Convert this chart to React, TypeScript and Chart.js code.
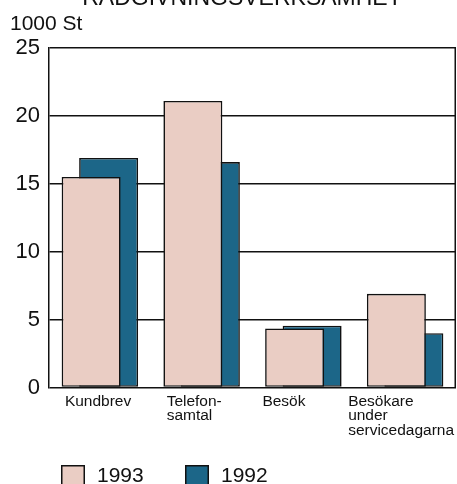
import React, { useEffect, useRef } from "react";
import { Chart, registerables } from "chart.js";

Chart.register(...registerables);

const title = "RÅDGIVNINGSVERKSAMHET";
const unitLabel = "1000 St";
const categories: string[][] = [
  ["Kundbrev"],
  ["Telefon-", "samtal"],
  ["Besök"],
  ["Besökare", "under", "servicedagarna"],
];
const seriesNames = ["1993", "1992"];
const values1993 = [15.5, 21.1, 4.35, 6.9];
const values1992 = [16.9, 16.6, 4.55, 4.0];
const yTicks = [0, 5, 10, 15, 20, 25];

// styling
const FONT = "'Liberation Sans', Arial, Helvetica, sans-serif";
const PINK = "rgb(234,205,196)";
const BLUE = "rgb(28,102,136)";
const labelShift = [-35, -35, -41, -57];
const legendSpots = [61, 185];

const overlay = {
  id: "overlay",
  beforeDatasetsDraw(chart: any) {
    const { ctx, chartArea } = chart;
    ctx.save();
    ctx.strokeStyle = "#111";
    ctx.lineWidth = 1.5;
    ctx.beginPath();
    ctx.moveTo(chartArea.right - 0.75, chartArea.top);
    ctx.lineTo(chartArea.right - 0.75, chartArea.bottom);
    ctx.stroke();
    ctx.restore();
  },
  afterDraw(chart: any) {
    const { ctx } = chart;
    const xs = chart.scales.x;
    ctx.save();
    ctx.fillStyle = "#111";
    // title (cut off at top)
    ctx.font = `23px ${FONT}`;
    ctx.textAlign = "center";
    ctx.textBaseline = "alphabetic";
    ctx.fillText(title, 242, 5);
    // unit label
    ctx.textAlign = "left";
    ctx.font = `21px ${FONT}`;
    ctx.fillText(unitLabel, 10, 29.5);
    // x labels
    ctx.font = `15.5px ${FONT}`;
    categories.forEach((lines, i) => {
      const x = xs.getPixelForValue(i) + labelShift[i];
      lines.forEach((ln, j) => {
        ctx.fillText(ln, x, 406 + j * 14.4);
      });
    });
    // legend
    chart.data.datasets.forEach((ds: any, i: number) => {
      const x = legendSpots[i];
      ctx.fillStyle = ds.backgroundColor;
      ctx.fillRect(x, 465, 24, 24);
      ctx.strokeStyle = "#111";
      ctx.lineWidth = 1.5;
      ctx.strokeRect(x + 0.75, 465.75, 22.5, 24);
      ctx.fillStyle = "#111";
      ctx.font = `21px ${FONT}`;
      ctx.fillText(ds.label, x + 36, 482);
    });
    ctx.restore();
  },
};

export default function App() {
  const ref = useRef<HTMLCanvasElement>(null);
  useEffect(() => {
    if (!ref.current) return;
    const chart = new Chart(ref.current, {
      type: "bar",
      data: {
        labels: categories.map((c) => c.join(" ")),
        datasets: [
          {
            label: seriesNames[0],
            data: values1993,
            backgroundColor: PINK,
            borderColor: "#111",
            borderWidth: 1.6,
            borderSkipped: false,
            categoryPercentage: 0.344,
            barPercentage: 3.37,
          },
          {
            label: seriesNames[1],
            data: values1992,
            backgroundColor: BLUE,
            borderColor: "#111",
            borderWidth: 1.6,
            borderSkipped: false,
            categoryPercentage: 0.344,
            barPercentage: 3.37,
          },
        ],
      },
      options: {
        responsive: false,
        animation: false,
        devicePixelRatio: 1,
        layout: { padding: { top: 48, right: 1, left: 0, bottom: 0 } },
        plugins: { legend: { display: false }, tooltip: { enabled: false }, title: { display: false } },
        scales: {
          x: {
            grid: { display: false },
            border: { display: false },
            ticks: { display: false },
            afterFit: (s: any) => {
              s.height = 96.5;
            },
          },
          y: {
            min: 0,
            max: 25,
            afterBuildTicks: (s: any) => {
              s.ticks = yTicks.map((v) => ({ value: v }));
            },
            ticks: {
              font: { family: FONT, size: 22 },
              color: "#111",
              padding: 9,
            },
            grid: { color: "#111", lineWidth: 1.5, drawTicks: false },
            border: { display: true, color: "#111", width: 1.5 },
            afterFit: (s: any) => {
              s.width = 49;
            },
          },
        },
      },
      plugins: [overlay],
    });
    return () => chart.destroy();
  }, []);
  return (
    <div style={{ position: "absolute", left: 0, top: 0, width: 457, height: 484, background: "#fff" }}>
      <canvas ref={ref} width={457} height={484} />
    </div>
  );
}
